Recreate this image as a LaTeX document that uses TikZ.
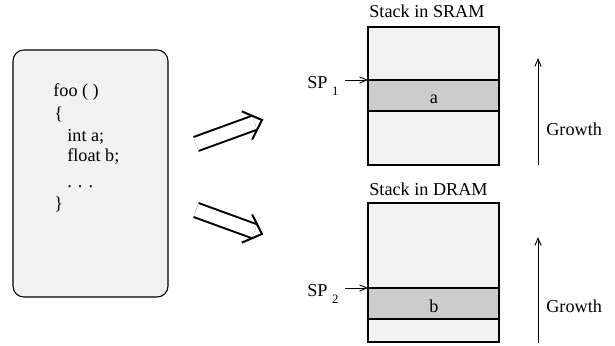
\documentclass[tikz,border=0pt]{standalone}
\usepackage{fontspec}
\setmainfont{Liberation Serif}
\usetikzlibrary{arrows, arrows.meta, calc, positioning}

\tikzset{
    frame/.style={draw, line width=0.6pt, fill=black!5},
    band/.style={draw, line width=0.6pt, fill=black!20},
    txt/.style={inner sep=0pt, font=\fontsize{10}{12}\selectfont},
    move/.style={double, double distance=7pt, line width=1.1pt},
    movehead/.style={line width=1.1pt, line join=miter},
    pointer/.style={-{Straight Barb[length=4pt, width=3.4pt]}, line width=0.5pt}
}

\newcommand{\splabel}[1]{SP\hspace{2.5pt}\raisebox{-4pt}{\fontsize{7}{8}\selectfont #1}}

% wide double arrow from #1 to #2
\newcommand{\widearrow}[2]{%
    \draw[move] (#1) -- ($(#2)!4.4pt!(#1)$);
    \coordinate (#2back) at ($(#2)!8.8pt!(#1)$);
    \draw[movehead] ($(#2back)!8.25pt!90:(#1)$) -- (#2) -- ($(#2back)!8.25pt!-90:(#1)$);
}

\begin{document}
\begin{tikzpicture}[x=0.55pt, y=-0.55pt]
    \useasboundingbox (0,0) rectangle (615,346);

    % Code
    \filldraw[frame, rounded corners=6pt] (13,50) rectangle (168,297);
    \node[txt, anchor=base west] (foo) at (53,96) {foo ( )};
    \node[txt, anchor=base west] (open) at (54,119) {\{};
    \node[txt, anchor=base west] (inta) at (67,141) {int a;};
    \node[txt, anchor=base west] (floatb) at (67,161) {float b;};
    \node[txt, anchor=base west] (dots) at (67,187) {. . .};
    \node[txt, anchor=base west] (close) at (54,209) {\}};

    % Arrows
    \coordinate (upfrom) at (196,144);
    \coordinate (upto) at (262,120);
    \coordinate (downfrom) at (196,210);
    \coordinate (downto) at (262,234);
    \widearrow{upfrom}{upto}
    \widearrow{downfrom}{downto}

    % Stack in SRAM
    \node[txt, anchor=base west] (sramtitle) at (369,18) {Stack in SRAM};
    \filldraw[frame] (368,27) rectangle (499,165);
    \filldraw[band] (368,80) rectangle (499,111);
    \node[txt, anchor=base] (vara) at (434,103) {a};
    \node[txt, anchor=base west] (sp1) at (307,88) {\splabel{1}};
    \coordinate (sp1from) at (345,80);
    \coordinate (sp1to) at (368,80);
    \draw[pointer] (sp1from) -- (sp1to);

    % Stack in DRAM
    \node[txt, anchor=base west] (dramtitle) at (369,195) {Stack in DRAM};
    \filldraw[frame] (368,203) rectangle (499,342);
    \filldraw[band] (368,288) rectangle (499,319);
    \node[txt, anchor=base] (varb) at (434,312) {b};
    \node[txt, anchor=base west] (sp2) at (307,296) {\splabel{2}};
    \coordinate (sp2from) at (345,288);
    \coordinate (sp2to) at (368,288);
    \draw[pointer] (sp2from) -- (sp2to);

    % Growth
    \coordinate (grow1low) at (538,165);
    \coordinate (grow1high) at (538,58);
    \draw[pointer] (grow1low) -- (grow1high);
    \node[txt, anchor=base west] (grow1) at (546,135) {Growth};
    \coordinate (grow2low) at (538,343);
    \coordinate (grow2high) at (538,237);
    \draw[pointer] (grow2low) -- (grow2high);
    \node[txt, anchor=base west] (grow2) at (546,312) {Growth};
\end{tikzpicture}
\end{document}
